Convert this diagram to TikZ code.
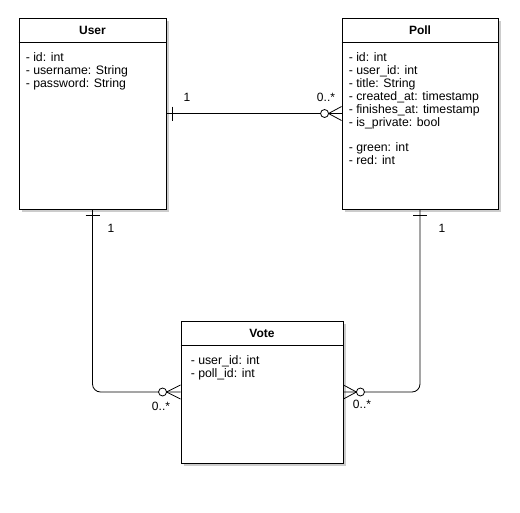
\documentclass[tikz,border=0pt]{standalone}
\usepackage{fontspec}
\setmainfont{Liberation Sans}
\usetikzlibrary{positioning,shadows}

\begin{document}
\begin{tikzpicture}[x=1pt,y=-1pt,
            entity/.style={draw,rectangle,fill=white,line width=.9pt,
              drop shadow={opacity=.4,shadow xshift=2.5pt,shadow yshift=-2.5pt}},
            title/.style={font=\fontsize{12}{13}\selectfont\bfseries,inner sep=0},
            attrs/.style={font=\fontsize{12.3}{13}\selectfont,align=left,inner sep=0,anchor=north west},
            card/.style={font=\fontsize{12}{13}\selectfont,inner sep=0},
            link/.style={draw,line width=.8pt}
          ]
          \useasboundingbox (0,0) rectangle (520,512);

          %entities
          \node[entity,minimum width=147,minimum height=191] (user) at (92.5,113.5) {};
          \node[entity,minimum width=156,minimum height=191] (poll) at (420,113.5) {};
          \node[entity,minimum width=162,minimum height=142] (vote) at (262,392) {};

          %headers
          \foreach \e in {user,poll,vote}
            \draw[line width=.9pt] ([yshift=-25pt]\e.north west) -- ([yshift=-25pt]\e.north east);
          \node[title,below=8pt of user.north] {User};
          \node[title,below=8pt of poll.north] {Poll};
          \node[title,below=8pt of vote.north] {Vote};

          %attributes
          \node[attrs] at ([shift={(7pt,-34.5pt)}]user.north west)
            {- id: int\\- username: String\\- password: String};
          \node[attrs] at ([shift={(7pt,-34.5pt)}]poll.north west)
            {- id: int\\- user\_id: int\\- title: String\\- created\_at: timestamp\\
             - finishes\_at: timestamp\\- is\_private: bool\\[12pt]- green: int\\- red: int};
          \node[attrs] at ([shift={(10pt,-34.5pt)}]vote.north west)
            {- user\_id: int\\- poll\_id: int};

          %relations
          \path[link] (user.east) -- (poll.west);
          \path[link,rounded corners=8] (user.south) |- (vote.west);
          \path[link,rounded corners=8] (poll.south) |- (vote.east);

          %one ends
          \path[link] ([xshift=6]user.east) ++(0,-7) -- ++(0,14);
          \path[link] ([yshift=-6]user.south) ++(-7,0) -- ++(14,0);
          \path[link] ([yshift=-6]poll.south) ++(-7,0) -- ++(14,0);

          %many ends
          \path[link,fill=white] ([xshift=-17]poll.west) circle (4);
          \path[link] ([xshift=-13]poll.west) -- ++(13,-7) ([xshift=-13]poll.west) -- ++(13,7);
          \path[link,fill=white] ([xshift=-18]vote.west) circle (4);
          \path[link] ([xshift=-14]vote.west) -- ++(14,-7) ([xshift=-14]vote.west) -- ++(14,7);
          \path[link,fill=white] ([xshift=17]vote.east) circle (4);
          \path[link] ([xshift=13]vote.east) -- ++(-13,-7) ([xshift=13]vote.east) -- ++(-13,7);

          %labels
          \node[card] (l1) at (187,97) {1};
          \node[card] (l2) at (326,97) {0..*};
          \node[card] (l3) at (111,228) {1};
          \node[card] (l4) at (442,228) {1};
          \node[card] (l5) at (161,406) {0..*};
          \node[card] (l6) at (362,404) {0..*};
\end{tikzpicture}
\end{document}
